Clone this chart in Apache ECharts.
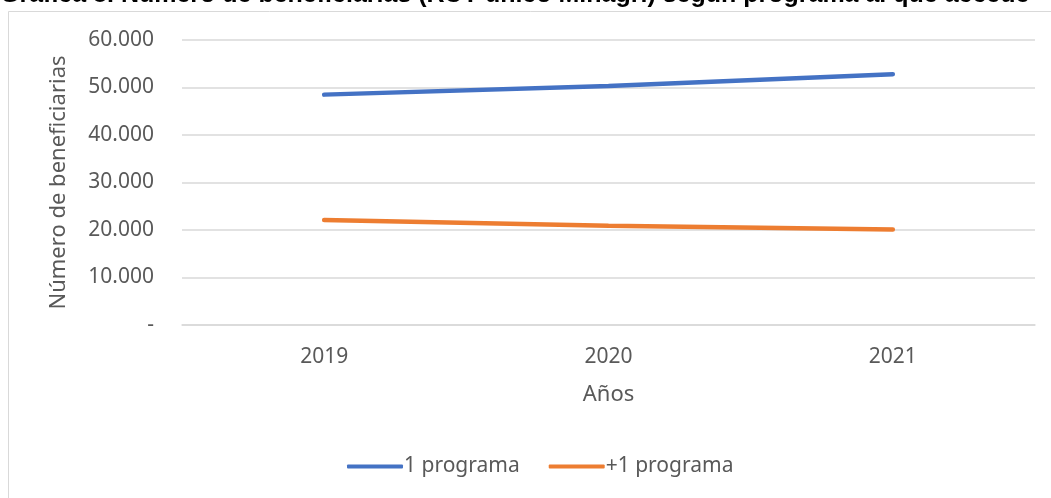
<!DOCTYPE html>
<html>
<head>
<meta charset="utf-8">
<script src="https://cdn.jsdelivr.net/npm/echarts@6/dist/echarts.min.js"></script>
<style>
html,body{margin:0;padding:0;background:#fff;}
#c{width:1051px;height:498px;}
</style>
</head>
<body>
<div id="c"></div>
<script>
const titleText = 'Gráfica 8. Número de beneficiarias (RUT único Minagri) según programa al que accede';
const categories = ['2019', '2020', '2021'];
const seriesNames = ['1 programa', '+1 programa'];
const unPrograma = [48500, 50300, 52800];
const masDeUnPrograma = [22100, 20900, 20100];
const yAxisName = 'Número de beneficiarias';
const xAxisName = 'Años';

const FONT = 'Noto Sans';
const fmt = v => v === 0 ? '-' : String(v).replace(/\B(?=(\d{3})+(?!\d))/g, '.');

const chart = echarts.init(document.getElementById('c'));
chart.setOption({
  animation: false,
  backgroundColor: '#fff',
  graphic: [
    {type: 'rect', shape: {x: 8.5, y: 11.5, width: 1100, height: 600}, style: {fill: 'none', stroke: '#d9d9d9', lineWidth: 1}, silent: true},
    {type: 'text', left: 0, top: -17, style: {text: titleText, font: 'bold 25px "Liberation Sans"', fill: '#000'}}
  ],
  grid: {left: 182, right: 16, top: 40, bottom: 173},
  legend: {
    bottom: 16, left: 342,
    itemWidth: 56, itemHeight: 4, itemGap: 29,
    icon: 'roundRect',
    textStyle: {fontFamily: FONT, fontSize: 21, color: '#595959', padding: [0, 0, 0, -4]},
    data: seriesNames
  },
  xAxis: {
    type: 'category', data: categories, boundaryGap: true,
    name: xAxisName, nameLocation: 'middle', nameGap: 59,
    nameTextStyle: {fontFamily: FONT, fontSize: 22, color: '#595959'},
    axisLine: {lineStyle: {color: '#d9d9d9', width: 1.5}},
    axisTick: {show: false},
    axisLabel: {fontFamily: FONT, fontSize: 21, color: '#595959', margin: 22}
  },
  yAxis: {
    type: 'value', min: 0, max: 60000, interval: 10000,
    name: yAxisName, nameLocation: 'middle', nameGap: 112, nameRotate: 90,
    nameTextStyle: {fontFamily: FONT, fontSize: 22, color: '#595959'},
    axisLine: {show: false}, axisTick: {show: false},
    splitLine: {lineStyle: {color: '#d9d9d9', width: 1.5}},
    axisLabel: {fontFamily: FONT, fontSize: 21, color: '#595959', margin: 28, formatter: fmt}
  },
  series: [
    {name: seriesNames[0], type: 'line', data: unPrograma, symbol: 'none', color: '#4472C4',
     lineStyle: {width: 4.5, cap: 'round', color: '#4472C4'}},
    {name: seriesNames[1], type: 'line', data: masDeUnPrograma, symbol: 'none', color: '#ED7D31',
     lineStyle: {width: 4.5, cap: 'round', color: '#ED7D31'}}
  ]
});
</script>
</body>
</html>
